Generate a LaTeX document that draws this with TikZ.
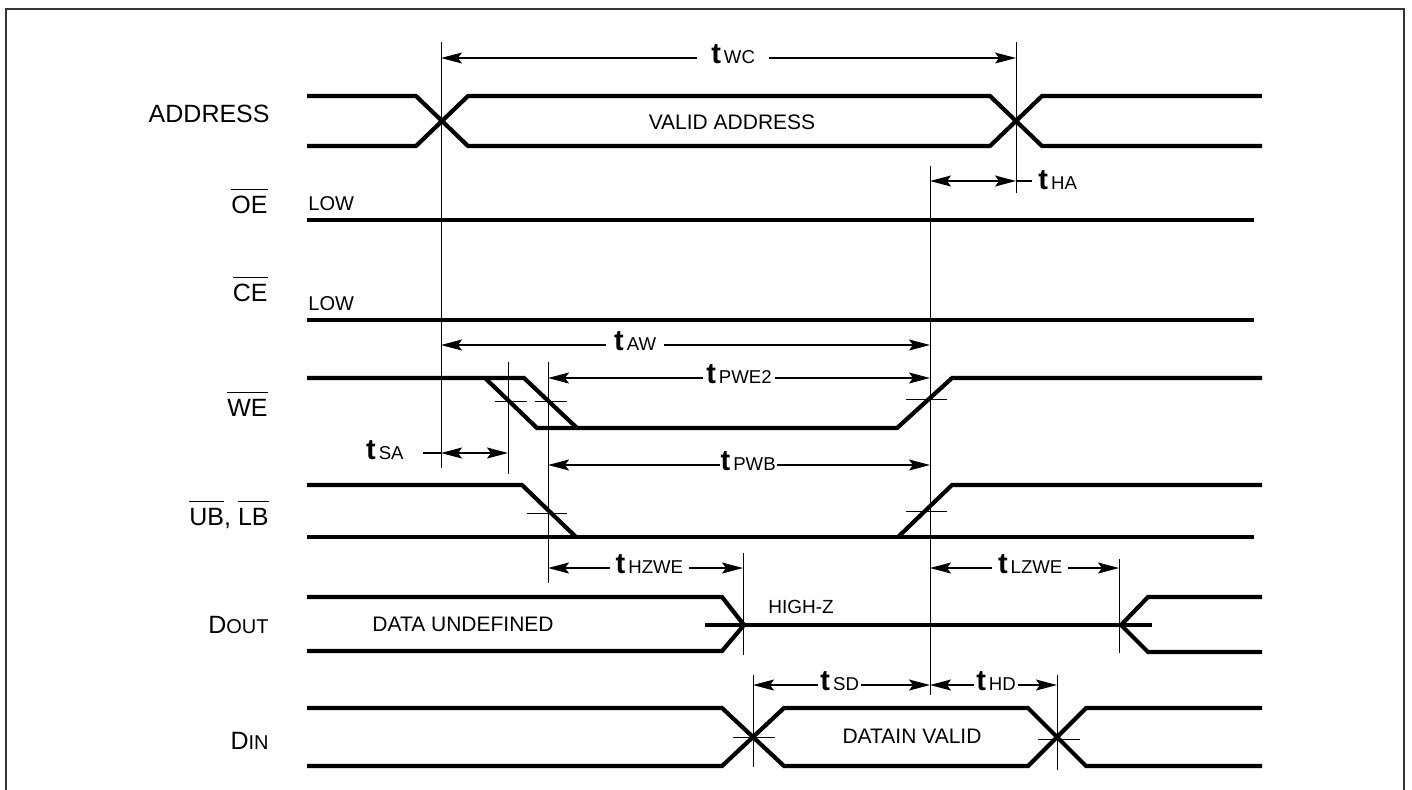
\documentclass[tikz,border=0pt]{standalone}
\usepackage{fontspec}
\setmainfont{Liberation Sans}
\usetikzlibrary{arrows.meta}

\newcommand{\tsub}[1]{{\fontsize{14.5}{15}\selectfont\bfseries t}\hspace{1.5pt}{\fontsize{9.3}{10}\selectfont #1}}
\newcommand{\ovbar}[1]{\setbox0\hbox{#1}\rlap{\rule[\dimexpr\ht0+3pt\relax]{\wd0}{0.5pt}}\box0}

\tikzset{
  sig/.style={line width=2.1pt},
  guide/.style={line width=0.5pt},
  tickmark/.style={line width=0.5pt},
  dim/.style={line width=0.65pt, {Stealth[length=10.5pt,width=5.5pt,inset=2pt]}-{Stealth[length=10.5pt,width=5.5pt,inset=2pt]}},
  signame/.style={anchor=base east, inner sep=0pt, font=\fontsize{12.5}{14}\selectfont},
  bustext/.style={inner sep=0pt, font=\fontsize{10.5}{12}\selectfont},
  tlab/.style={fill=white, anchor=base, yshift=-2.5pt, inner xsep=3pt, inner ysep=1pt}
}

\begin{document}
\begin{tikzpicture}[x=0.5pt,y=-0.5pt]
  \useasboundingbox (0,0) rectangle (1412,789);
  % frame
  \draw[line width=1.2pt, black!80] (6,800) -- (6,9) -- (1404,9) -- (1404,800);

  % Signal names
  \node[signame] (laddr) at (270,122) {ADDRESS};
  \node[signame] (loe) at (268,213) {\ovbar{OE}};
  \node[signame] (lce) at (268,301) {\ovbar{CE}};
  \node[signame] (lwe) at (268,416) {\ovbar{WE}};
  \node[signame] (lublb) at (269,525) {\ovbar{UB}, \ovbar{LB}};
  \node[signame] (ldout) at (269,633) {D{\fontsize{10}{12}\selectfont OUT}};
  \node[signame] (ldin) at (269,749) {D{\fontsize{10}{12}\selectfont IN}};

  % ADDRESS
  \draw[sig] (307,96) -- (416,96) -- (468,146) -- (990,146) -- (1042,96) -- (1262,96);
  \draw[sig] (307,146) -- (416,146) -- (468,96) -- (990,96) -- (1042,146) -- (1262,146);
  \node[bustext, anchor=base] (vaddr) at (732,129) {VALID ADDRESS};

  % OE, CE
  \draw[sig] (307,220) -- (1254,220);
  \node[bustext, anchor=base west, font=\fontsize{10}{12}\selectfont] (low1) at (308,210) {LOW};
  \draw[sig] (307,320) -- (1254,320);
  \node[bustext, anchor=base west, font=\fontsize{10}{12}\selectfont] (low2) at (308,310) {LOW};

  % WE
  \draw[sig] (307,378) -- (524,378) -- (577,428);
  \draw[sig] (485,378) -- (537,428) -- (897,428) -- (952,378) -- (1262,378);

  % UB, LB
  \draw[sig] (307,485) -- (522,485) -- (576,537);
  \draw[sig] (307,537) -- (1254,537);
  \draw[sig] (898,537) -- (952,485) -- (1262,485);

  % DOUT
  \draw[sig] (307,597) -- (722,597) -- (744,625) -- (722,651) -- (307,651);
  \draw[sig] (705,625) -- (1152,625);
  \draw[sig] (1262,597) -- (1148,597) -- (1121,625) -- (1148,652) -- (1262,652);
  \node[bustext, anchor=base west] (dund) at (372,631) {DATA UNDEFINED};
  \node[bustext, anchor=base west, font=\fontsize{9.5}{11}\selectfont] (hiz) at (768,613) {HIGH-Z};

  % DIN
  \draw[sig] (307,708) -- (722,708) -- (784,766) -- (1028,766) -- (1086,708) -- (1262,708);
  \draw[sig] (307,766) -- (722,766) -- (784,708) -- (1028,708) -- (1086,766) -- (1262,766);
  \node[bustext, anchor=base] (dinv) at (912,743) {DATAIN VALID};

  % Guide lines
  \draw[guide] (441,42) -- (441,468);
  \draw[guide] (1016,42) -- (1016,193);
  \draw[guide] (930,166) -- (930,695);
  \draw[guide] (508,362) -- (508,474);
  \draw[guide] (548,362) -- (548,583);
  \draw[guide] (743,553) -- (743,655);
  \draw[guide] (1119,559) -- (1119,653);
  \draw[guide] (753,675) -- (753,767);
  \draw[guide] (1057,675) -- (1057,770);

  % Ticks
  \draw[tickmark] (495,401) -- (527,401);
  \draw[tickmark] (535,401) -- (567,401);
  \draw[tickmark] (906,399) -- (947,399);
  \draw[tickmark] (527,513) -- (567,513);
  \draw[tickmark] (906,511) -- (947,511);
  \draw[tickmark] (733,737) -- (775,737);
  \draw[tickmark] (1038,739) -- (1080,739);

  % Timing arrows
  \coordinate (wc-a) at (441,58);  \coordinate (wc-b) at (1016,58);
  \draw[dim] (wc-a) -- node[tlab, pos=.508, inner xsep=7pt] (twc) {\tsub{WC}} (wc-b);

  \coordinate (ha-a) at (930,181); \coordinate (ha-b) at (1016,181);
  \coordinate (ha-c) at (1032,181);
  \draw[dim] (ha-a) -- (ha-b);
  \draw[line width=0.65pt] (ha-b) -- (ha-c);
  \node[anchor=base west, inner sep=0pt] (tha) at (1038,189) {\tsub{HA}};

  \coordinate (aw-a) at (441,345); \coordinate (aw-b) at (930,345);
  \draw[dim] (aw-a) -- node[tlab, pos=.397, inner xsep=4pt] (taw) {\tsub{AW}} (aw-b);

  \coordinate (pwe-a) at (548,378); \coordinate (pwe-b) at (930,378);
  \draw[dim] (pwe-a) -- node[tlab, pos=.5, inner xsep=1.5pt] (tpwe) {\tsub{PWE2}} (pwe-b);

  \coordinate (sa-a) at (441,453); \coordinate (sa-b) at (508,453);
  \coordinate (sa-c) at (423,453);
  \draw[dim] (sa-a) -- (sa-b);
  \draw[line width=0.65pt] (sa-c) -- (sa-a);
  \node[anchor=base east, inner sep=0pt] (tsa) at (404,459) {\tsub{SA}};

  \coordinate (pwb-a) at (548,465); \coordinate (pwb-b) at (930,465);
  \draw[dim] (pwb-a) -- node[tlab, pos=.524, inner xsep=0.5pt] (tpwb) {\tsub{PWB}} (pwb-b);

  \coordinate (hz-a) at (548,568); \coordinate (hz-b) at (743,568);
  \draw[dim] (hz-a) -- node[tlab, pos=.52] (thz) {\tsub{HZWE}} (hz-b);

  \coordinate (lz-a) at (930,568); \coordinate (lz-b) at (1119,568);
  \draw[dim] (lz-a) -- node[tlab, pos=.53] (tlz) {\tsub{LZWE}} (lz-b);

  \coordinate (sd-a) at (753,685); \coordinate (sd-b) at (930,685);
  \draw[dim] (sd-a) -- node[tlab, pos=.49, inner xsep=1pt] (tsd) {\tsub{SD}} (sd-b);

  \coordinate (hd-a) at (930,685); \coordinate (hd-b) at (1057,685);
  \draw[dim] (hd-a) -- node[tlab, pos=.52, inner xsep=1pt] (thd) {\tsub{HD}} (hd-b);
\end{tikzpicture}
\end{document}
